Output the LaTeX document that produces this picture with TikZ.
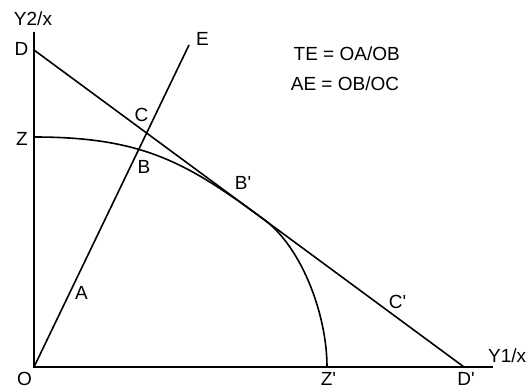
\documentclass[tikz,border=0pt]{standalone}
\usepackage{fontspec}
\newfontfamily\labfont{Liberation Sans}
\usetikzlibrary{calc}

\begin{document}
\begin{tikzpicture}[
    x=1pt, y=1pt,
    font=\labfont\fontsize{19}{22}\selectfont,
    axis/.style = {line width=2pt},
    ln/.style   = {line width=1.6pt},
    lbl/.style  = {inner sep=0pt, anchor=center},
]
\useasboundingbox (-34,-22) rectangle (493,367);

% ============ points ============
\coordinate (O)    at (0,0);
\coordinate (ytop) at (0,335);
\coordinate (xend) at (459,0);
\coordinate (D)    at (0,317);
\coordinate (Dp)   at (430,0);
\coordinate (Z)    at (0,230);
\coordinate (Zp)   at (293,0);
\coordinate (Bp)   at (230,147.5);
\coordinate (E)    at (155,322);

% ============ axes ============
\draw[axis] (ytop) -- (O) -- (xend);

% ============ ray, tangent line, frontier ============
\draw[ln] (O) -- (E);
\draw[ln] (D) -- (Dp);
\draw[ln] (Z) .. controls (108,230) and (152,205) .. (Bp)
              .. controls (268,119.5) and (293,52) .. (Zp);

% ============ labels ============
\node[lbl] (ly2) at (-1,348.5)   {Y2/x};
\node[lbl] (lD)  at (-12.5,318)  {D};
\node[lbl] (lZ)  at (-12,228.5)  {Z};
\node[lbl] (lO)  at (-9.5,-11.5) {O};
\node[lbl] (lA)  at (47.5,74.5)  {A};
\node[lbl] (lB)  at (110,200.5)  {B};
\node[lbl] (lC)  at (107.5,252)  {C};
\node[lbl] (lE)  at (168.5,328.5) {E};
\node[lbl] (lBp) at (209,184)    {B'};
\node[lbl] (lCp) at (363.5,65.5) {C'};
\node[lbl] (lZp) at (294.5,-12) {Z'};
\node[lbl] (lDp) at (432,-12)  {D'};
\node[lbl, anchor=west] (ly1) at (454,11) {Y1/x};

\node[lbl] (te) at (312.7,313.5) {TE = OA/OB};
\node[lbl] (ae) at (311,283.7)   {AE = OB/OC};

\end{tikzpicture}
\end{document}
